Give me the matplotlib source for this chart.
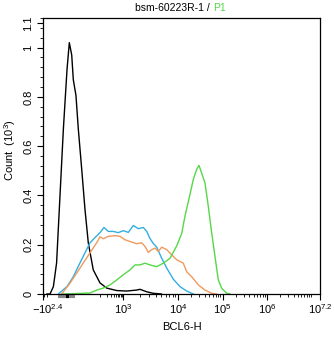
import numpy as np
import matplotlib
matplotlib.use("Agg")
import matplotlib.pyplot as plt
import matplotlib.ticker as ticker
import matplotlib.transforms as mtransforms

plt.rcParams["font.family"] = ["Liberation Sans", "DejaVu Sans"]
plt.rcParams["mathtext.fontset"] = "custom"
plt.rcParams["mathtext.rm"] = "Liberation Sans"
plt.rcParams["mathtext.it"] = "Liberation Sans:italic"
plt.rcParams["mathtext.bf"] = "Liberation Sans:bold"

# histograms: BCL6-H intensity vs count (x1000)
black_x = [-100, -49, -22, -10, -4, -1.3, 0, 0.38, 0.93, 1.41, 2.5, 3.84, 6.8, 11.3,
           18.5, 38, 99, 194, 531, 1167, 1774, 2037, 2698, 3508, 5000]
black_y = [0, 0, 0.03, 0.126, 0.40, 0.67, 0.91, 1.02, 0.97, 0.87, 0.805, 0.67, 0.506, 0.343,
           0.208, 0.098, 0.045, 0.024, 0.014, 0.012, 0.016, 0.019, 0.009, 0.003, 0]

blue_x = [-6.4, 0, 1.4, 5.1, 11.3, 23.8, 48.8, 99, 148, 229, 377, 624, 1012, 1248, 1540,
          1897, 2339, 2698, 3097, 3557, 4100, 5058, 6237, 8228, 11090, 15700, 22080]
blue_y = [0, 0.03, 0.07, 0.126, 0.167, 0.208, 0.229, 0.249, 0.27, 0.254, 0.254, 0.249, 0.257,
          0.25, 0.278, 0.265, 0.27, 0.254, 0.225, 0.205, 0.19, 0.145, 0.105, 0.06, 0.03,
          0.012, 0]

orange_x = [-2.4, 0.52, 2.9, 8.7, 23.8, 62, 99, 138, 229, 448, 740, 1087, 1341, 1774, 2188,
            2512, 2884, 3327, 3819, 4385, 5058, 6237, 7674, 9462, 13150, 15700, 20320,
            28580, 40450, 57150, 74130]
orange_y = [0, 0.044, 0.085, 0.126, 0.167, 0.208, 0.232, 0.224, 0.234, 0.237, 0.234, 0.22,
            0.213, 0.204, 0.208, 0.193, 0.169, 0.18, 0.186, 0.173, 0.19, 0.18, 0.159, 0.139,
            0.125, 0.09, 0.07, 0.037, 0.016, 0.003, 0]

green_x = [-1.3, 23.8, 62, 138, 271, 531, 1012, 1341, 1653, 2037, 2512, 3097, 4100, 5408,
           7161, 9462, 12100, 14350, 18620, 22080, 26300, 29650, 34120, 40450, 47970,
           57150, 67760, 80540, 95940, 124200, 147500]
green_y = [0, 0.004, 0.016, 0.024, 0.037, 0.057, 0.078, 0.098, 0.118, 0.118, 0.125, 0.118,
           0.111, 0.125, 0.145, 0.195, 0.245, 0.316, 0.405, 0.465, 0.506, 0.522, 0.49, 0.45,
           0.356, 0.248, 0.152, 0.057, 0.023, 0.003, 0]

x_ticks = [-(10 ** 2.4 - 1), 1e3, 1e4, 1e5, 1e6, 10 ** 7.2]
x_tick_labels = [r"$-10^{2.4}$", r"$10^{3}$", r"$10^{4}$", r"$10^{5}$", r"$10^{6}$", r"$10^{7.2}$"]
y_ticks = [0, 0.2, 0.4, 0.6, 0.8, 1.0, 1.1]
y_tick_labels = ["0", "0.2", "0.4", "0.6", "0.8", "1", "1.1"]

# biexponential-like display scale (signed log, piecewise)
U_ANCH = np.array([-2.4, 0, 2, 3, 4, 5, 6, 7.2])
P_ANCH = np.array([43, 67, 100, 123, 178, 222.5, 267, 320.0])


def fwd(x):
    x = np.asarray(x, dtype=float)
    u = np.sign(x) * np.log10(1 + np.abs(x))
    return np.interp(u, U_ANCH, P_ANCH)


def inv(p):
    p = np.asarray(p, dtype=float)
    u = np.interp(p, P_ANCH, U_ANCH)
    return np.sign(u) * (10 ** np.abs(u) - 1)


fig = plt.figure(figsize=(3.34, 3.37), dpi=100)
ax = fig.add_axes([43 / 334, 1 - 294 / 337, 277 / 334, 276 / 337])
ax.set_xscale("function", functions=(fwd, inv))

ax.plot(black_x, black_y, color="#000000", lw=1.0)
ax.plot(blue_x, blue_y, color="#33aee0", lw=1.0)
ax.plot(orange_x, orange_y, color="#f09a5e", lw=1.0)
ax.plot(green_x, green_y, color="#55d848", lw=1.0)

ax.set_xlim(x_ticks[0], x_ticks[-1])
ax.set_ylim(0, 1.12)

ax.set_xticks(x_ticks)
ax.set_xticklabels(x_tick_labels)
minor_x = [-200, -100, 0, 100, 200, 300, 400, 500, 600, 700, 800, 900]
for d in [1e3, 1e4, 1e5, 1e6]:
    minor_x += [k * d for k in range(2, 10)]
minor_x += [1e7]
ax.set_xticks(minor_x, minor=True)

ax.set_yticks(y_ticks)
ax.set_yticklabels(y_tick_labels, rotation=90, va="center")
ax.yaxis.set_minor_locator(ticker.MultipleLocator(0.04))

ax.tick_params(which="major", direction="out", length=4, width=0.8, labelsize=8, pad=2)
ax.tick_params(axis="y", which="major", pad=3)
ax.tick_params(which="minor", direction="out", length=2, width=0.6)
for s in ax.spines.values():
    s.set_linewidth(0.9)

# nudge the negative end label to the right
first = ax.get_xticklabels()[0]
first.set_transform(first.get_transform() + mtransforms.ScaledTranslation(5 / 100, 0, fig.dpi_scale_trans))

# zero-region marker under the axis
trans = mtransforms.blended_transform_factory(ax.transData, ax.transAxes)
ax.plot([-7, 2.05], [-0.009, -0.009], color="#888888", lw=3, transform=trans,
        clip_on=False, solid_capstyle="butt")
ax.plot([-0.4, 0.4], [-0.009, -0.009], color="#000000", lw=3, transform=trans,
        clip_on=False, solid_capstyle="butt")

ax.set_xlabel("BCL6-H", fontsize=8)
ax.xaxis.set_label_coords(0.5, -0.1)
ax.set_ylabel(r"Count  $(10^{3})$", fontsize=8)
ax.yaxis.set_label_coords(-0.092, 0.52)

fig.text(0.638, 0.977, "bsm-60223R-1 / ", ha="right", va="center", fontsize=7.5)
fig.text(0.638, 0.977, "P1", ha="left", va="center", fontsize=7.5, color="#55d848")

fig.savefig("out.png", dpi=100)
